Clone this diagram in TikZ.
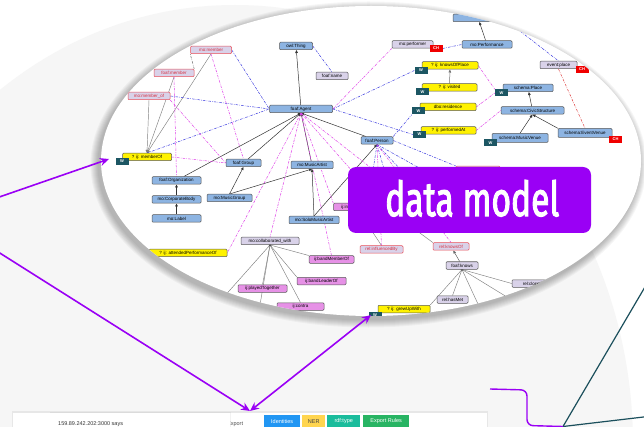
\documentclass[tikz,border=0pt]{standalone}
\usepackage{fontspec}
\setmainfont{Liberation Sans}
\newfontfamily\bannerfont{Fira Sans}[FakeBold=2.6]
\usetikzlibrary{arrows.meta}
\pgfdeclarelayer{bg}
\pgfdeclarelayer{edges}
\pgfsetlayers{bg,edges,main}
\definecolor{clsblue}{HTML}{8DB4E2}
\definecolor{lav}{HTML}{D9D2E9}
\definecolor{redb}{HTML}{E8505A}
\definecolor{redt}{HTML}{D83040}
\definecolor{pinkf}{HTML}{E691E6}
\definecolor{wteal}{HTML}{1C5663}
\definecolor{chred}{HTML}{F00000}
\definecolor{bluedd}{HTML}{3B3BE0}
\definecolor{pinkdd}{HTML}{E040E8}
\definecolor{reddd}{HTML}{E04040}
\definecolor{purp}{HTML}{9A00F5}
\definecolor{bggray}{HTML}{F6F6F6}
\definecolor{tabblue}{HTML}{2196F3}
\definecolor{tabyel}{HTML}{FFD54F}
\definecolor{tabteal}{HTML}{1ABC9C}
\definecolor{tabgreen}{HTML}{28B463}
\definecolor{tealline}{HTML}{1B4F5C}
\begin{document}
\begin{tikzpicture}[x=1pt,y=-1pt,
  base/.style={rectangle,rounded corners=1pt,inner sep=0pt,minimum height=7.5pt,font=\fontsize{4.5}{5}\selectfont,draw=black!65,line width=0.5pt},
  cls/.style={base,fill=clsblue},
  prp/.style={base,fill=lav},
  prr/.style={base,fill=lav,draw=redb,text=redt},
  yel/.style={base,fill=yellow},
  pnk/.style={base,fill=pinkf},
  wbox/.style={rectangle,fill=wteal,text=white,font=\fontsize{4}{4}\selectfont\bfseries,minimum width=13pt,minimum height=7pt,inner sep=0pt},
  chbox/.style={rectangle,fill=chred,text=white,font=\fontsize{4}{4}\selectfont\bfseries,minimum width=13pt,minimum height=7pt,inner sep=0pt},
  sub/.style={draw=black!80,line width=0.5pt,-{Triangle[length=3pt,width=2.6pt]}},
  spl/.style={draw=black!50,line width=0.45pt},
  spla/.style={spl,-{Triangle[length=3pt,width=3pt]}},
  dd/.style={line width=0.5pt,dash pattern=on 2.5pt off 1.2pt on 0.6pt off 1.2pt},
  bdd/.style={dd,draw=bluedd},
  pdd/.style={dd,draw=pinkdd},
  rdd/.style={dd,draw=reddd},
  gdd/.style={dd,draw=black!60},
  bigarrow/.style={draw=purp,line width=1.6pt},
  tab/.style={rectangle,inner sep=0pt,minimum height=12pt,font=\fontsize{5.5}{6}\selectfont,text=white,anchor=north west}
]
\useasboundingbox (0,0) rectangle (644,427);
% ---------------- background ----------------
\begin{pgfonlayer}{bg}
\fill[white] (0,0) rectangle (644,427);
\fill[bggray] (235,445) ellipse [x radius=398pt, y radius=440pt];
\foreach \i in {1,...,8}{
  \fill[black,opacity=0.035] (368.5,164.5) ellipse [x radius={270pt+\i pt}, y radius={155pt+\i pt}];
}
\fill[white] (371,161) ellipse [x radius=270pt, y radius=155pt];
\end{pgfonlayer}
% ---------------- nodes ----------------
\begin{scope}
\clip (371,161) ellipse [x radius=270pt, y radius=155pt];
\node[cls,minimum width=33pt] (thing) at (296,46) {owl:Thing};
\node[cls,minimum width=63pt] (agent) at (301,109) {foaf:Agent};
\node[prp,minimum width=32pt] (fname) at (332,76) {foaf:name};
\node[prr,minimum width=41pt] (mmember) at (211,50) {mo:member};
\node[prr,minimum width=40pt] (fmember) at (174,73) {foaf:member};
\node[prr,minimum width=42pt] (mmemberof) at (149,96) {mo:member\_of};
\node[yel,minimum width=49pt] (memberof) at (147,157) {? ij: memberOf};
\node[wbox] (wmemberof) at (122,161.5) {W};
\node[cls,minimum width=35pt] (group) at (243.5,163) {foaf:Group};
\node[cls,minimum width=49pt] (org) at (176.5,180.5) {foaf:Organization};
\node[cls,minimum width=49pt] (corp) at (176.5,199.5) {mo:CorporateBody};
\node[cls,minimum width=49pt] (label) at (176.5,218.5) {mo:Label};
\node[cls,minimum width=45pt] (mgroup) at (229.5,198) {mo:MusicGroup};
\node[cls,minimum width=42pt] (martist) at (312,165) {mo:MusicArtist};
\node[cls,minimum width=50pt] (solo) at (314,220) {mo:SoloMusicArtist};
\node[cls,minimum width=32pt] (person) at (377,140.5) {foaf:Person};
\node[prp,minimum width=41pt] (performer) at (412.5,44.5) {mo:performer};
\node[chbox] (ch1) at (436,48.5) {CH};
\node[cls,minimum width=50pt] (perf) at (487,44.5) {mo:Performance};
\node[cls,minimum width=50pt] (topn) at (478,18) {};
\node[yel,minimum width=56pt] (knowsplace) at (450,65.5) {? ij: knowsOfPlace};
\node[wbox] (wk) at (421,70.5) {W};
\node[yel,minimum width=55pt] (visited) at (449.5,87.5) {? ij: visited};
\node[wbox] (wv) at (422.5,92) {W};
\node[yel,minimum width=56pt] (residence) at (448,107) {dbo:residence};
\node[wbox] (wr) at (418.5,111) {W};
\node[yel,minimum width=55pt] (perfat) at (448.5,130.5) {? ij: performedAt};
\node[wbox] (wp) at (419.5,134.5) {W};
\node[prp,minimum width=37pt] (eplace) at (558.5,65) {event:place};
\node[chbox] (ch2) at (582,69.5) {CH};
\node[cls,minimum width=50pt] (splace) at (528,88) {schema:Place};
\node[wbox] (ws) at (501.5,93) {W};
\node[cls,minimum width=63pt] (civic) at (532.5,110.5) {schema:CivicStructure};
\node[cls,minimum width=56pt,minimum height=9pt] (mvenue) at (520,138) {schema:MusicVenue};
\node[wbox] (wm) at (490.5,143) {W};
\node[cls,minimum width=54pt,minimum height=9pt] (evenue) at (585,133) {schema:EventVenue};
\node[chbox] (ch3) at (615.5,139.5) {CH};
\node[prp,minimum width=58pt] (collab) at (270,241) {mo:collaborated\_with};
\node[yel,minimum width=78pt] (attended) at (188,253) {? ij: attendedPerformanceOf};
\node[pnk,minimum width=45pt] (bandmember) at (331.5,259.5) {ij:bandMemberOf};
\node[pnk,minimum width=49pt] (bandleader) at (321.5,281) {ij:bandLeaderOf};
\node[pnk,minimum width=49pt] (played) at (262.5,288.5) {ij:playedTogether};
\node[pnk,minimum width=47pt] (pinkbottom) at (300.5,306.5) {ij:contra};
\node[pnk,minimum width=45pt] (infl) at (356,207) {ij:influencedBy};
\node[prr,minimum width=44pt] (hidden) at (478,170) {};
\node[prr,minimum width=43pt] (relinfl) at (381.5,249.5) {rel:influencedBy};
\node[prr,minimum width=36pt] (knowsof) at (451,246.5) {rel:knowsOf};
\node[prp,minimum width=32pt] (knows) at (462,265.5) {foaf:knows};
\node[prp,minimum width=31pt] (hasmet) at (452.5,299.5) {rel:hasMet};
\node[prp,minimum width=56pt] (relclo) at (540,283.5) {rel:closeFriendOf};
\node[yel,minimum width=52pt] (yel40) at (404,309) {? ij: grewUpWith};
\node[wbox] (wy) at (375,315) {W};
\end{scope}
% ---------------- edges ----------------
\begin{pgfonlayer}{edges}
\begin{scope}
\clip (371,161) ellipse [x radius=270pt, y radius=155pt];
% subclass arrows
\draw[sub] (agent) -- (thing);
\draw[sub] (person) -- (agent.south);
\draw[sub] (group) -- (agent.south);
\draw[sub] (org) -- (agent.south);
\draw[sub] (martist) -- (agent.south);
\draw[sub] (mgroup.north) -- (group.south);
\draw[sub] (mgroup.north) -- (martist.south);
\draw[sub] (solo.north) -- (martist.south);
\draw[sub] (solo.north) -- (person.south);
\draw[sub] (corp) -- (org);
\draw[sub] (label) -- (corp);
\draw[sub,draw=black!55] (visited) -- (knowsplace);
\draw[sub] (perf) -- (topn);
\draw[sub] (civic) -- (splace);
\draw[sub] (mvenue.north) -- (civic.south);
\draw[sub] (evenue.north west) -- (civic.south);
\draw[sub,draw=black!60] (knows) -- (knowsof);
% sub-property fans
\draw[spla] (mmember.south) -- (memberof.north);
\draw[spla] (fmember.south) -- (memberof.north);
\draw[spla] (mmemberof.south) -- (memberof.north);
\coordinate (c1) at (190,335);
\coordinate (c2) at (255,335);
\draw[spl] (collab.south) -- (bandmember.north west);
\draw[spl] (collab.south) -- (bandleader.north west);
\draw[spl] (collab.south) -- (played.north);
\draw[spl] (collab.south) -- (pinkbottom.north);
\draw[spl] (collab.south) -- (c1);
\draw[spl] (collab.south) -- (c2);
\fill[black!70] (collab.south) circle (1.3pt);
\coordinate (c3) at (490,330);
\coordinate (c4) at (520,305);
\draw[spl] (knows.south) -- (yel40.north east);
\draw[spl] (knows.south) -- (hasmet.north);
\draw[spl] (knows.south) -- (c3);
\draw[spl] (knows.south) -- (c4);
\draw[spl] (knows.south) -- (relclo.west);
\fill[black!70] (knows.south) circle (1.3pt);
\draw[spl] (infl) -- (relinfl.north);
\coordinate (c5) at (405,222);
\draw[spl] (c5) -- (knowsof.north west);
% blue dash-dot
\draw[bdd] (mmember.east) -- (agent.west);
\draw[bdd] (mmemberof.east) -- (agent.west);
\draw[bdd] (memberof.north) -- (agent.west);
\draw[bdd] (thing.east) -- (fname.north);
\draw[bdd] (agent.east) -- (wk.west);
\draw[bdd] (agent.east) -- (wp.west);
\draw[bdd] (person.north east) -- (wr.south west);
\draw[bdd] (ch1.east) -- (perf.west);
\draw[bdd] (topn.east) -- (eplace.north);
\draw[bdd] (person.east) -- (hidden.north west);
\coordinate (c6) at (370,190);
\coordinate (c7) at (390,190);
\coordinate (c8) at (420,190);
\coordinate (c9) at (450,185);
\draw[bdd] (person.south) -- (c6);
\draw[bdd] (person.south) -- (c7);
\draw[bdd] (person.south) -- (c8);
\draw[bdd] (person.south) -- (c9);
% pink dash-dot
\draw[pdd] (agent.east) -- (performer.south west);
\draw[pdd] (mmember.south) -- (group.north);
\draw[pdd] (mmemberof.south east) -- (group.west);
\draw[pdd] (fmember.south) -- (org.north);
\draw[pdd] (memberof.east) -- (group.west);
\draw[pdd] (agent.south) -- (collab.north);
\draw[pdd] (agent.south) -- (attended.east);
\draw[pdd] (agent.south) -- (infl.north west);
\draw[pdd] (agent.south) -- (bandmember.north);
\coordinate (c10) at (360,180);
\coordinate (c11) at (380,175);
\draw[pdd] (agent.south) -- (c10);
\draw[pdd] (agent.south) -- (c11);
\draw[pdd] (person.south) -- (relinfl.north);
\draw[pdd] (person.south) -- (knowsof.north);
\draw[pdd] (knowsplace.east) -- (ws.north west);
\draw[pdd] (residence.east) -- (ws.west);
\draw[pdd] (perfat.east) -- (civic.west);
\draw[rdd] (eplace.south) -- (evenue.north);
\draw[gdd] (fmember.north east) -- (mmember.south west);
\end{scope}
\end{pgfonlayer}
% ---------------- front ----------------
\fill[purp,rounded corners=8pt] (348,167) rectangle (591,233);
\node[anchor=base west,inner sep=0pt,text=white] (dm) at (385,216) {\scalebox{0.7}[1]{\bannerfont\fontsize{48}{48}\selectfont data model}};
% big purple arrows
\coordinate (p0) at (-5,198.5);
\coordinate (p1) at (109,159);
\coordinate (p2) at (-5,250);
\coordinate (p3) at (250,411);
\coordinate (p4) at (371,315);
\draw[bigarrow,-{Stealth[length=9pt,width=8pt,inset=3pt]}] (p0) -- (p1);
\draw[bigarrow,-{Stealth[length=9pt,width=8pt,inset=3pt]}] (p2) -- (p3);
\draw[bigarrow,{Stealth[length=9pt,width=8pt,inset=3pt]}-{Stealth[length=9pt,width=8pt,inset=3pt]}] (p3) -- (p4);
% bottom UI strip
\fill[black,opacity=0.06] (12,410.5) rectangle (488,427);
\fill[white] (13,412.5) rectangle (487,427);
\draw[black!12] (50,413) -- (50,427);
\node[anchor=base west,inner sep=0pt,font=\fontsize{5.5}{6}\selectfont,text=black!70] (ex) at (227,425.5) {Export};
\fill[black,opacity=0.05] (50,412) rectangle (231,427);
\fill[white] (50,413) rectangle (230,427);
\node[anchor=base west,inner sep=0pt,font=\fontsize{5.5}{6}\selectfont,text=black!80] (says) at (58,425.5) {159.89.242.202:3000 says};
\node[tab,fill=tabblue,minimum width=36pt] (t1) at (264,415) {Identities};
\node[tab,fill=tabyel,minimum width=23pt,text=black!75] (t2) at (302,415) {NER};
\node[tab,fill=tabteal,minimum width=33pt] (t3) at (327,415) {rdf:type};
\node[tab,fill=tabgreen,minimum width=46pt] (t4) at (363,415) {Export Rules};
% teal lines and purple connector
\coordinate (q0) at (563,426.5);
\coordinate (q1) at (652,275);
\coordinate (q2) at (652,416);
\draw[tealline,line width=1.2pt] (q0) -- (q1);
\draw[tealline,line width=1.2pt] (q0) -- (q2);
\coordinate (r0) at (490,389);
\draw[purp,line width=1.4pt,rounded corners=6pt] (r0) -- (527,390) -- (527,425.5) -- (q0);
\end{tikzpicture}
\end{document}
